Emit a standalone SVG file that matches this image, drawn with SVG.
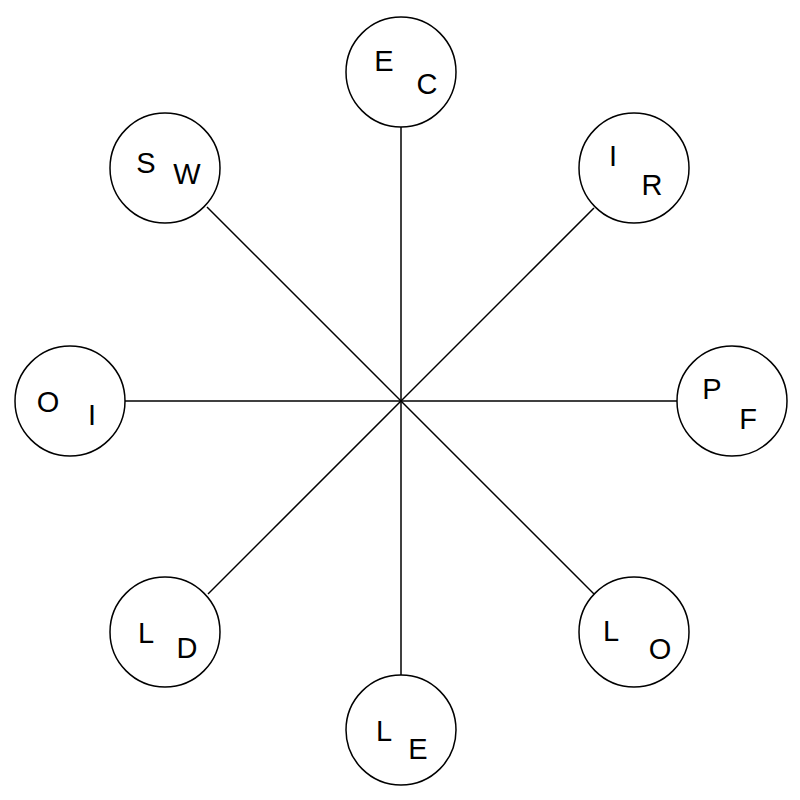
<svg xmlns="http://www.w3.org/2000/svg" width="800" height="800" viewBox="0 0 800 800">
<style>
circle{fill:#fff;stroke:#000;stroke-width:1.5}
line{stroke:#000;stroke-width:1.5}
text{font-family:"Liberation Sans",Arial,sans-serif;font-size:29px;text-anchor:middle;fill:#000}
</style>
<rect width="800" height="800" fill="#fff"/>
<g id="connectors">
<line x1="401" y1="401" x2="401" y2="127"/>
<line x1="401" y1="401" x2="401" y2="675"/>
<line x1="401" y1="401" x2="125" y2="401"/>
<line x1="401" y1="401" x2="677" y2="401"/>
<line x1="401" y1="401" x2="207" y2="207"/>
<line x1="401" y1="401" x2="594" y2="208"/>
<line x1="401" y1="401" x2="208" y2="594"/>
<line x1="401" y1="401" x2="594" y2="594"/>
</g>
<g id="n-top"><circle cx="401" cy="72" r="55"/><text x="384" y="71">E</text><text x="427" y="94">C</text></g>
<g id="n-tl"><circle cx="165" cy="168" r="55"/><text x="146" y="173">S</text><text x="187" y="184">W</text></g>
<g id="n-tr"><circle cx="634" cy="168" r="55"/><text x="613" y="166">I</text><text x="652" y="195">R</text></g>
<g id="n-l"><circle cx="70" cy="401" r="55"/><text x="48" y="412">O</text><text x="92" y="425">I</text></g>
<g id="n-r"><circle cx="732" cy="401" r="55"/><text x="712" y="399">P</text><text x="748" y="429">F</text></g>
<g id="n-bl"><circle cx="165" cy="632" r="55"/><text x="146" y="643">L</text><text x="187" y="658">D</text></g>
<g id="n-br"><circle cx="634" cy="632" r="55"/><text x="611" y="641">L</text><text x="660" y="659">O</text></g>
<g id="n-b"><circle cx="401" cy="730" r="55"/><text x="384" y="741">L</text><text x="418" y="759">E</text></g>
</svg>
